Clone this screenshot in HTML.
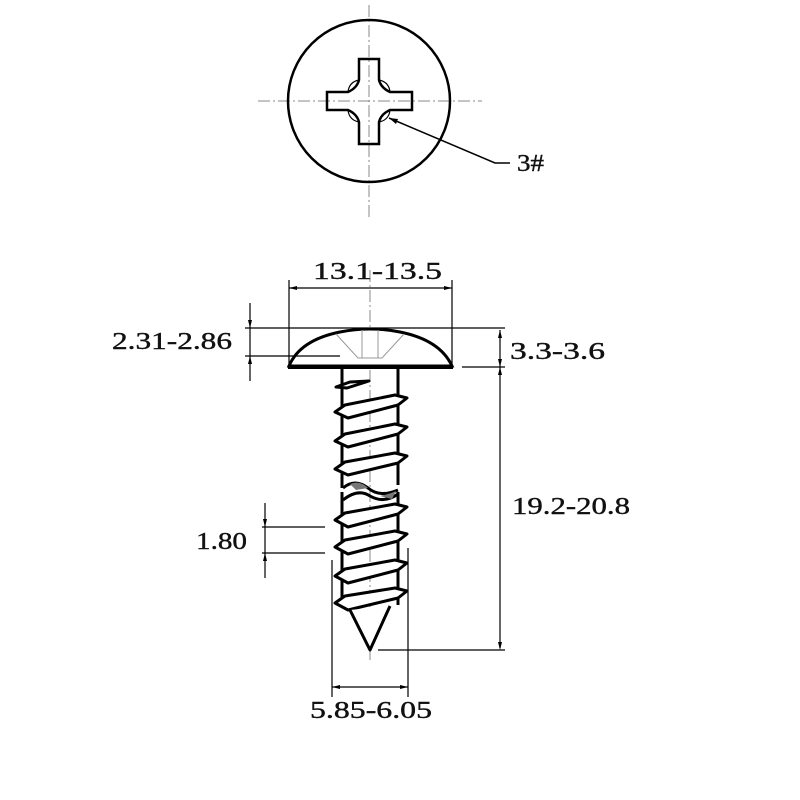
<!DOCTYPE html>
<html><head><meta charset="utf-8"><style>
html,body{margin:0;padding:0;background:#fff;width:800px;height:800px;overflow:hidden}
text{font-family:"Liberation Serif","Noto Serif CJK SC",serif;font-size:24px;fill:#111;stroke:#111;stroke-width:0.4}
</style></head><body>
<svg width="800" height="800" viewBox="0 0 800 800" xmlns="http://www.w3.org/2000/svg">
<g stroke="#888" stroke-width="1" stroke-dasharray="12,3,2,3" fill="none">
<line x1="369" y1="5" x2="369" y2="220"/>
<line x1="258" y1="101" x2="482" y2="101"/>
<line x1="370" y1="270" x2="370" y2="660"/>
</g>
<circle cx="369" cy="101" r="81" fill="none" stroke="#000" stroke-width="2.5"/>
<path d="M359,59 H379 V80 Q381,88 390,92 H412 V110 H390 Q381,114 379,122 V144 H359 V122 Q357,114 348,110 H327 V92 H348 Q357,88 359,80 Z" fill="none" stroke="#000" stroke-width="2.5"/>
<path d="M359,80 Q349,82 348,92 M379,80 Q389,82 390,92 M379,122 Q389,120 390,110 M359,122 Q349,120 348,110" stroke="#000" stroke-width="1.2" fill="none"/>
<polyline points="389,118 495,163 510,163" fill="none" stroke="#000" stroke-width="1.5"/>
<path d="M389,118 l9,1 l-2,5 z" fill="#000"/>
<text x="517" y="171" textLength="27" lengthAdjust="spacingAndGlyphs">3#</text>
<!-- head -->
<path d="M289,366 Q300,340 340,332 Q370,326 400,332 Q440,340 452,366 Z" fill="#fff" stroke="#000" stroke-width="3"/>
<line x1="288" y1="367" x2="453" y2="367" stroke="#000" stroke-width="4"/>
<path d="M336,334 L358,358 L382,358 L404,334 M362,330 V358 M378,330 V358" stroke="#999" stroke-width="1" fill="none"/>
<!-- shank -->
<g stroke="#000" stroke-width="3" fill="#fff" stroke-linejoin="round">
<path d="M342,368 V488 M398,368 V485"/>
<path d="M342,492 V605 M398,492 V605"/>
<path d="M336,387 L350,382 L369,381 L347,388 Z"/>
<path d="M335,412 L345,405 L395,395 L407,398 L398,405 L348,418 Z"/>
<path d="M335,441 L345,434 L395,424 L407,427 L398,434 L348,447 Z"/>
<path d="M335,469 L345,462 L395,453 L407,456 L398,463 L348,475 Z"/>
<path d="M335,520 L345,513 L395,504 L407,507 L398,514 L348,527 Z"/>
<path d="M335,547 L345,540 L395,531 L407,534 L398,541 L348,554 Z"/>
<path d="M335,576 L345,569 L395,560 L407,563 L398,570 L348,583 Z"/>
<path d="M335,603 L345,596 L395,588 L407,591 L398,598 L348,610 Z"/>
<path d="M350,610 L370,650 L390,606"/>
<path d="M343,488 Q355,478 368,488 Q380,498 398,490" fill="none"/>
<path d="M343,500 Q358,488 370,496 Q384,504 398,494" fill="none"/>
</g>
<path d="M350,484 Q360,480 368,488 L356,490 Z M380,496 Q390,494 396,491 L392,499 Z" fill="#777"/>
<!-- dimensions -->
<g stroke="#000" stroke-width="1.2" fill="none">
<line x1="289" y1="280" x2="289" y2="365"/>
<line x1="452" y1="280" x2="452" y2="365"/>
<line x1="289" y1="288" x2="452" y2="288"/>
<line x1="245" y1="328" x2="505" y2="328"/>
<line x1="245" y1="356" x2="340" y2="356"/>
<line x1="250" y1="303" x2="250" y2="381"/>
<line x1="462" y1="367" x2="505" y2="367"/>
<line x1="500" y1="330" x2="500" y2="648"/>
<line x1="378" y1="650" x2="505" y2="650"/>
<line x1="262" y1="527" x2="325" y2="527"/>
<line x1="262" y1="553" x2="325" y2="553"/>
<line x1="265" y1="503" x2="265" y2="578"/>
<line x1="332" y1="560" x2="332" y2="697"/>
<line x1="408" y1="548" x2="408" y2="697"/>
<line x1="332" y1="687" x2="408" y2="687"/>
</g>
<g fill="#000">
<path d="M289,288 l8,-2 v4 z M452,288 l-8,-2 v4 z"/>
<path d="M250,328 l-2,-8 h4 z M250,356 l-2,8 h4 z"/>
<path d="M500,330 l-2,8 h4 z M500,367 l-2,-8 h4 z M500,367 l-2,8 h4 z M500,650 l-2,-8 h4 z"/>
<path d="M265,527 l-2,-8 h4 z M265,553 l-2,8 h4 z"/>
<path d="M332,687 l8,-2 v4 z M408,687 l-8,-2 v4 z"/>
</g>
<text x="313" y="279" textLength="129" lengthAdjust="spacingAndGlyphs">13.1-13.5</text>
<text x="112" y="349" textLength="120" lengthAdjust="spacingAndGlyphs">2.31-2.86</text>
<text x="510" y="359" textLength="95" lengthAdjust="spacingAndGlyphs">3.3-3.6</text>
<text x="512" y="514" textLength="118" lengthAdjust="spacingAndGlyphs">19.2-20.8</text>
<text x="196" y="549" textLength="51" lengthAdjust="spacingAndGlyphs">1.80</text>
<text x="310" y="718" textLength="122" lengthAdjust="spacingAndGlyphs">5.85-6.05</text>
</svg>
</body></html>
